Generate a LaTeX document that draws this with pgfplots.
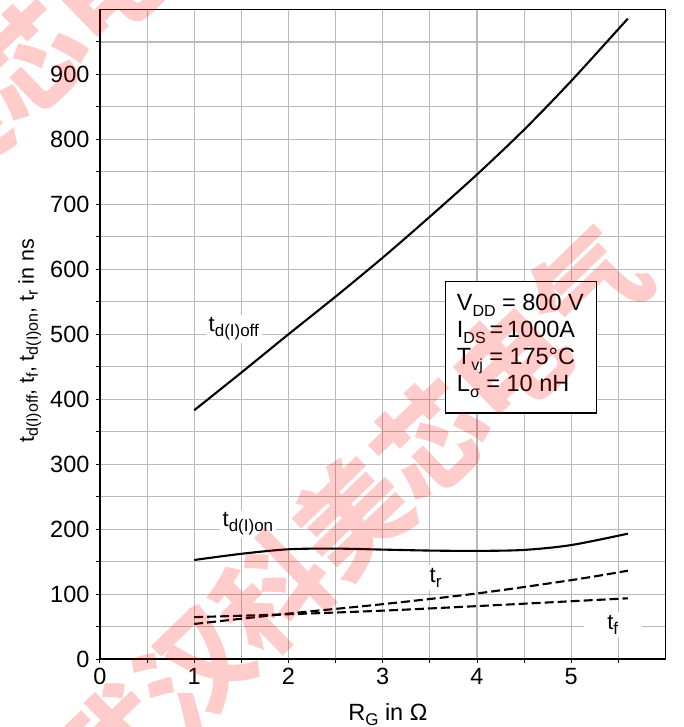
\documentclass[border=0pt]{standalone}
\usepackage{fontspec}
\setmainfont{Liberation Sans}
\newfontfamily\cjk{Noto Sans CJK SC}
\usepackage{pgfplots}
\pgfplotsset{compat=1.18}

% lowered subscript: #1 = drop, #2 = size, #3 = text
\newcommand\sbx[3]{\raisebox{#1}{\fontsize{#2}{#2}\selectfont #3}}
\newcommand\bigfont{\fontsize{23.5}{27}\selectfont}
\newcommand\lblfont{\fontsize{22}{26}\selectfont}
\newcommand\ylblfont{\fontsize{21.5}{25}\selectfont}

\begin{document}
\begin{tikzpicture}
\begin{axis}[
  scale only axis,
  width=566pt, height=650pt,
  xmin=0, xmax=6, ymin=0, ymax=1000,
  xtick={0,1,2,3,4,5},
  ytick={0,100,...,900},
  minor xtick={0.5,1.5,...,5.5},
  minor ytick={50,150,...,950},
  grid=both,
  major grid style={line width=1.1pt, color=black!27},
  minor grid style={line width=1.1pt, color=black!27},
  tick pos=left,
  tick align=outside,
  major tick length=4pt, minor tick length=4pt,
  every tick/.style={black, line width=1pt},
  axis line style={line width=1.3pt},
  /pgf/number format/assume math mode=true,
  tick label style={font=\bigfont},
  xticklabel style={yshift=-2pt},
  yticklabel style={xshift=-3pt},
  clip=false,
  xlabel={R\sbx{-5pt}{17}{G} in Ω},
  ylabel={t\sbx{-4pt}{16}{d(I)off}, t\sbx{-4pt}{16}{f}, t\sbx{-4pt}{16}{d(I)on}, t\sbx{-4pt}{16}{r} in ns},
  every axis x label/.style={at={(axis description cs:0.509,0)}, anchor=base, yshift=-61pt, font=\bigfont},
  every axis y label/.style={at={(axis description cs:-0.124,0.49)}, rotate=90, anchor=center, font=\ylblfont},
]
% t_d(I)off
\addplot[black, line width=2.1pt, smooth] coordinates {
  (1,383) (1.5,441) (2,500) (2.5,558) (3,618) (3.5,681) (4,746) (4.5,815) (5,890) (5.6,986)};
% t_d(I)on
\addplot[black, line width=2.1pt, smooth] coordinates {
  (1,152.5) (1.5,162) (2,169) (2.5,170) (3,168.5) (3.5,167) (4,166.5) (4.5,168) (5,175.5) (5.6,193)};
% t_r
\addplot[black, line width=2.1pt, dash pattern=on 9pt off 4pt, smooth] coordinates {
  (1,54) (2,70) (3,84.5) (4,101) (5,121.5) (5.6,136)};
% t_f
\addplot[black, line width=2.1pt, dash pattern=on 9pt off 4pt, smooth] coordinates {
  (1,64.5) (2,69) (3,74.5) (4,81.5) (5,89) (5.6,93.5)};

% curve labels
\node[fill=white, inner sep=3pt, font=\lblfont] at (axis cs:1.42,508) {t\sbx{-5pt}{17}{d(I)off}};
\node[fill=white, inner sep=3pt, font=\lblfont] at (axis cs:1.57,208) {t\sbx{-5pt}{17}{d(I)on}};
\node[fill=white, inner sep=3pt, font=\lblfont] at (axis cs:3.56,125) {t\sbx{-5pt}{17}{r}};
\node[fill=white, inner sep=3pt, minimum width=58pt, font=\lblfont] at (axis cs:5.44,53) {t\sbx{-5pt}{17}{f}};

% test conditions
\draw[fill=white, line width=1.3pt] (axis cs:3.668,581) rectangle (axis cs:5.269,379);
\node[anchor=base west, inner sep=0pt, font=\bigfont] at (axis cs:3.785,537) {V\sbx{-6pt}{16}{DD} = 800 V};
\node[anchor=base west, inner sep=0pt, font=\bigfont] at (axis cs:3.785,495.5) {I\sbx{-6pt}{16}{DS}\,=\,1000A};
\node[anchor=base west, inner sep=0pt, font=\bigfont] at (axis cs:3.785,454) {T\sbx{-6pt}{16}{vj} = 175°C};
\node[anchor=base west, inner sep=0pt, font=\bigfont] at (axis cs:3.785,412.5) {L\sbx{-6pt}{16}{σ} = 10 nH};
\end{axis}

% watermark
\node[rotate=44, opacity=0.2, text=red, font={\cjk\bfseries\fontsize{110}{110}\selectfont}, inner sep=0pt]
  at (252pt,143pt) {武汉科美芯电气};
\node[rotate=44, opacity=0.2, text=red, font={\cjk\bfseries\fontsize{110}{110}\selectfont}, inner sep=0pt]
  at (-150pt,522pt) {武汉科美芯电气};

\pgfresetboundingbox
\useasboundingbox (-100pt,-68pt) rectangle (584pt,659.5pt);
\end{tikzpicture}
\end{document}
